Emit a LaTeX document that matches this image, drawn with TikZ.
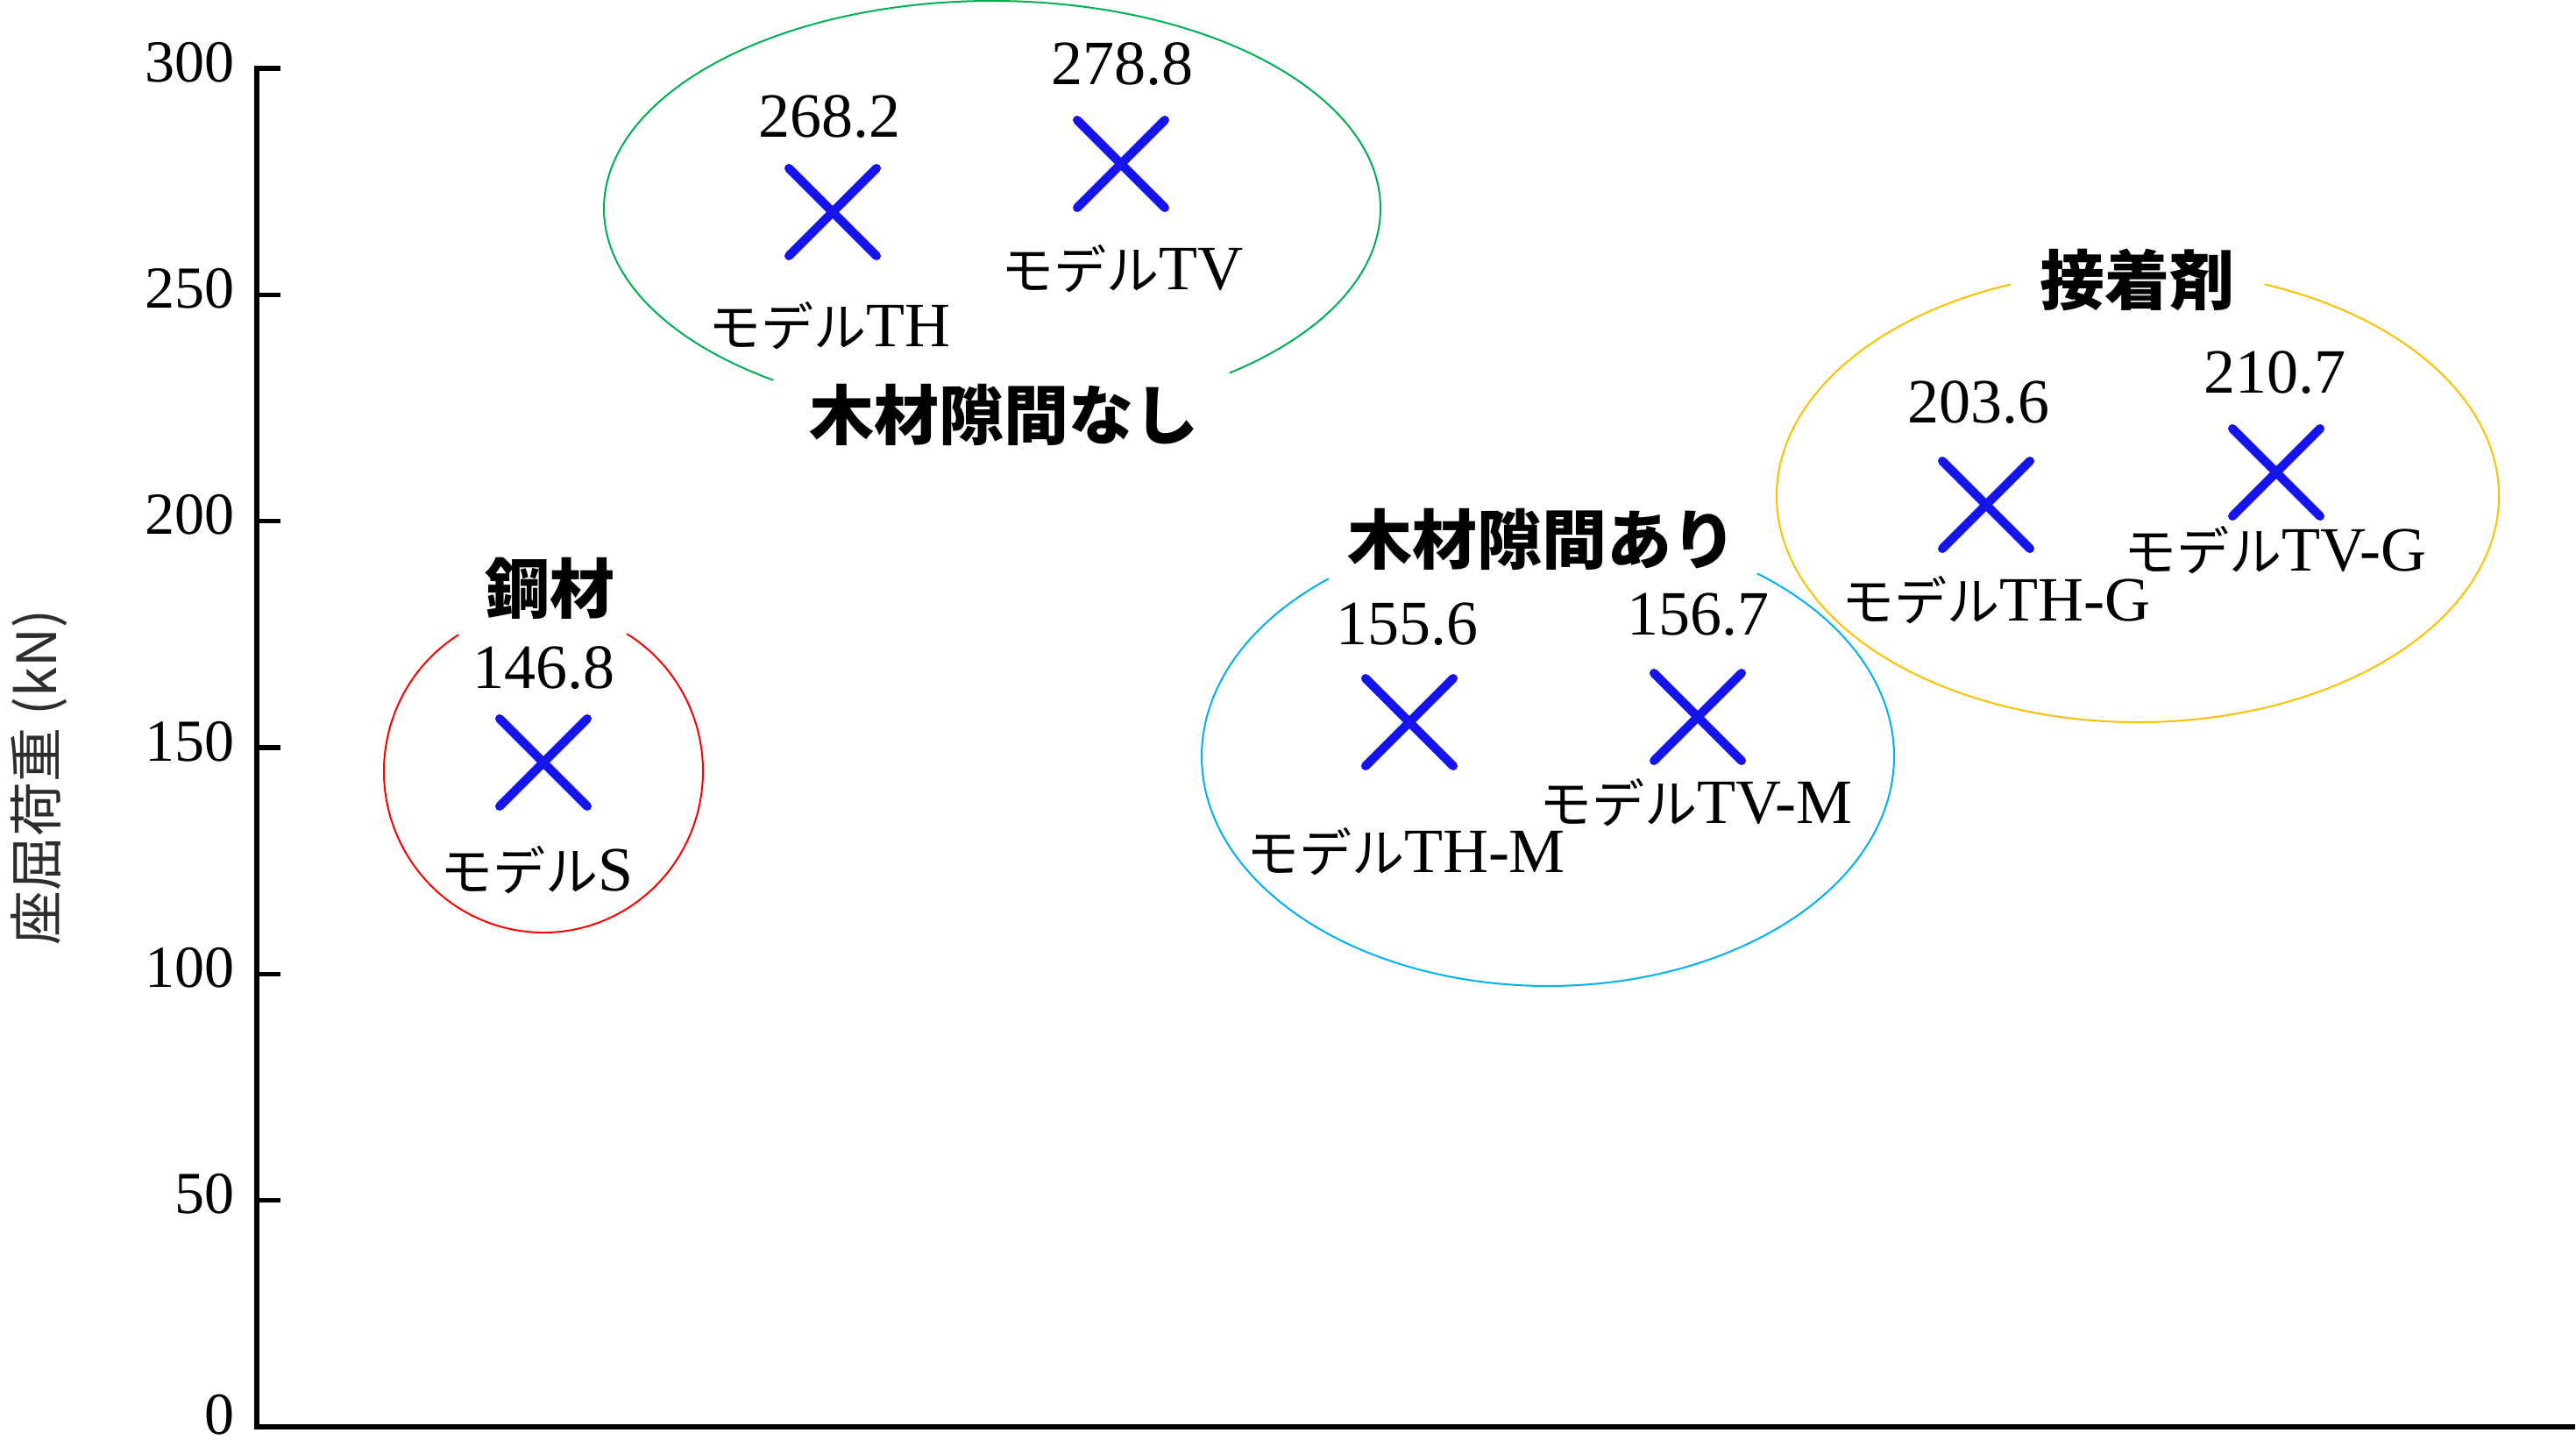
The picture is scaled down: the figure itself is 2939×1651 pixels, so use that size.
\documentclass[tikz,border=0pt]{standalone}
\usepackage{fontspec}
\setmainfont{Liberation Serif}
\newfontfamily\jp{Noto Sans CJK JP}
\usetikzlibrary{shapes.misc}
\definecolor{xblue}{RGB}{20,20,235}
\definecolor{cgreen}{RGB}{0,176,80}
\definecolor{ccyan}{RGB}{0,176,240}
\definecolor{cred}{RGB}{255,0,0}
\definecolor{cyellow}{RGB}{255,192,0}
\definecolor{ylab}{RGB}{45,45,45}
\newcommand{\kata}[1]{{\jp\fontsize{60}{72}\selectfont #1}}
\begin{document}
\begin{tikzpicture}[x=1pt,y=-1pt,
  axisline/.style={line width=5.5pt},
  ticklab/.style={font=\fontsize{68}{80}\selectfont, anchor=east, inner sep=0pt, text=black},
  vallab/.style={font=\fontsize{72}{86}\selectfont, inner sep=0pt},
  mdllab/.style={font=\fontsize{72}{86}\selectfont, inner sep=0pt},
  grplab/.style={font=\jp\bfseries\fontsize{74}{88}\selectfont, inner sep=0pt},
  xmark/.style={cross out, draw=xblue, line width=10pt, line cap=round, minimum size=90pt, inner sep=0pt},
  ring/.style={line width=2pt}]
\useasboundingbox (0,0) rectangle (2939,1651);
% axes
\coordinate (o) at (293,1628);
\coordinate (ytop) at (293,78);
\coordinate (xend) at (2935,1628);
\draw[axisline, line cap=rect] (ytop) -- (o) -- (xend);
\foreach \v in {50,100,...,300}{
  \draw[axisline] (293,{1628-\v*5.1667}) -- ++(27,0);
}
\foreach \v in {50,100,...,300}{
  \node[ticklab] (t\v) at (268,{1621-\v*5.1667}) {\v};
}
\node[ticklab] (t0) at (268,1614) {0};
\node[rotate=90, font=\jp\fontsize{62}{74}\selectfont, text=ylab, inner sep=0pt] (ylabel) at (45,887) {座屈荷重 (kN)};
% group rings (arcs with gap for group labels)
\coordinate (cS) at (620,880);
\coordinate (cN) at (1132,238);
\coordinate (cM) at (1766,863);
\coordinate (cG) at (2439,566);
\draw[ring, cred] (cS) ++(122.2:182pt and 184pt) arc[start angle=122.2, end angle=418.5, x radius=182pt, y radius=184pt];
\draw[ring, cgreen] (cN) ++(307.7:443pt and 237pt) arc[start angle=307.7, end angle=595.7, x radius=443pt, y radius=237pt];
\draw[ring, ccyan] (cM) ++(129.3:395pt and 262pt) arc[start angle=129.3, end angle=412.8, x radius=395pt, y radius=262pt];
\draw[ring, cyellow] (cG) ++(110.6:412pt and 258pt) arc[start angle=110.6, end angle=429.5, x radius=412pt, y radius=258pt];
% group labels
\node[grplab] (gS) at (627,671) {鋼材};
\node[grplab] (gN) at (1145,473) {木材隙間なし};
\node[grplab] (gM) at (1759,615) {木材隙間あり};
\node[grplab] (gG) at (2438,319) {接着剤};
% data marks
\node[xmark] (mS) at (620,870) {};
\node[xmark] (mTH) at (950,242) {};
\node[xmark] (mTV) at (1279,187) {};
\node[xmark] (mTHM) at (1608,824) {};
\node[xmark] (mTVM) at (1937,818) {};
\node[xmark] (mTHG) at (2266,576) {};
\node[xmark] (mTVG) at (2597,539) {};
% values
\node[vallab] (vS) at (620,762) {146.8};
\node[vallab] (vTH) at (946,133) {268.2};
\node[vallab] (vTV) at (1280,73) {278.8};
\node[vallab] (vTHM) at (1605,712) {155.6};
\node[vallab] (vTVM) at (1937,701) {156.7};
\node[vallab] (vTHG) at (2257,459) {203.6};
\node[vallab] (vTVG) at (2595,425) {210.7};
% model names
\node[mdllab] (nS) at (613,993) {\kata{モデル}S};
\node[mdllab] (nTH) at (946,372) {\kata{モデル}TH};
\node[mdllab] (nTV) at (1280,307) {\kata{モデル}TV};
\node[mdllab] (nTHM) at (1604,972) {\kata{モデル}TH-M};
\node[mdllab] (nTVM) at (1935,916) {\kata{モデル}TV-M};
\node[mdllab] (nTHG) at (2277,685) {\kata{モデル}TH-G};
\node[mdllab] (nTVG) at (2596,628) {\kata{モデル}TV-G};
\end{tikzpicture}
\end{document}
